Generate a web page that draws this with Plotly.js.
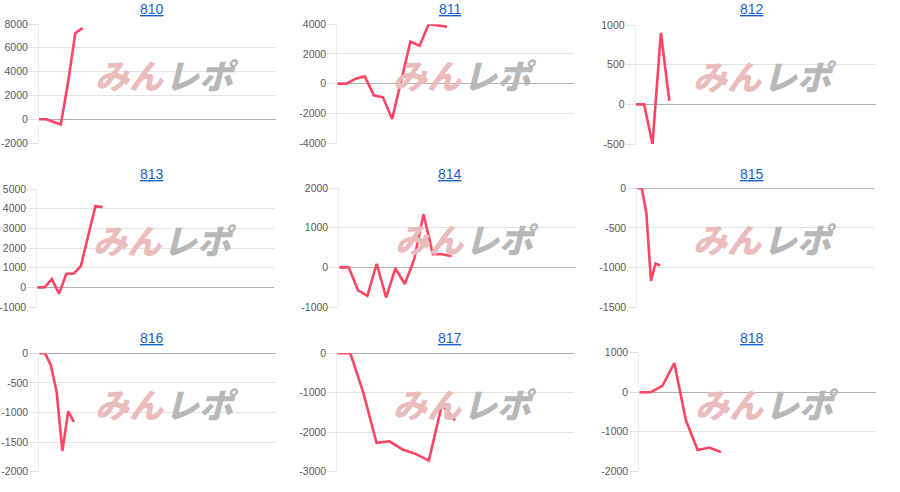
<!DOCTYPE html>
<html><head><meta charset="utf-8">
<script src="https://cdn.plot.ly/plotly-3.0.1.min.js"></script>
<style>html,body{margin:0;padding:0;background:#fff}#c{width:900px;height:492px}</style>
</head><body><div id="c"></div>
<script>
// ---- data ----
const titles = ["810","811","812","813","814","815","816","817","818"];
const s810 = [0, 0, -230, -450, 3100, 7250, 7650];
const s811 = [0, 0, 330, 490, -790, -920, -2380, 200, 2830, 2560, 4000, 3930, 3840];
const s812 = [0, 0, -500, 900, 45];
const s813 = [0, 0, 420, -320, 690, 690, 1080, 2600, 4130, 4080];
const s814 = [0, 0, -580, -720, 90, -760, -30, -420, 200, 1340, 330, 330, 280];
const s815 = [0, 0, -320, -1170, -950, -975];
const s816 = [0, 0, -200, -650, -1650, -980, -1160];
const s817 = [0, 0, -1010, -2270, -2230, -2440, -2550, -2720, -1300, -1700];
const s818 = [0, 0, 170, 740, -710, -1460, -1400, -1510];
const series = [s810, s811, s812, s813, s814, s815, s816, s817, s818];
const yRanges = [[-2000,8000],[-4000,4000],[-500,1000],[-1000,5000],[-1000,2000],[-1500,0],[-2000,0],[-3000,0],[-2000,1000]];
const yDticks = [2000, 2000, 500, 1000, 1000, 500, 500, 1000, 1000];
const xMax = [32.6, 25.9, 28.6, 32.6, 25.3, 52, 41, 18.1, 20.3];

// ---- layout geometry (pixels) ----
const W = 900, H = 492;
const boxes = [
  [39,276,24,143],[337.3,574,24.3,143],[635.7,876,25,144],
  [37.3,274,189,307],[339.3,576,188,307],[637.3,874,188.3,307],
  [39.3,276,353.3,471.7],[337.3,574,353.3,471.7],[639.3,876,352.7,471.3]
];
const titleX = [152,450,752];
const titleY = [9,174,338];

const data = [];
const layout = {
  width: W, height: H,
  margin: {l:0,r:0,t:0,b:0},
  paper_bgcolor: '#fff', plot_bgcolor: '#fff',
  showlegend: false,
  font: {family: 'Arial, "Liberation Sans", sans-serif', color: '#555'},
  annotations: []
};

series.forEach((ys, i) => {
  const n = i + 1;
  const xa = 'xaxis' + (n === 1 ? '' : n), ya = 'yaxis' + (n === 1 ? '' : n);
  const xr = 'x' + (n === 1 ? '' : n), yr = 'y' + (n === 1 ? '' : n);
  data.push({
    y: ys, xaxis: xr, yaxis: yr, type: 'scatter', mode: 'lines',
    line: {color: '#ff4563', width: 2.6},
    hoverinfo: 'skip'
  });
  const b = boxes[i];
  const tv = [], tt = [];
  for (let v = yRanges[i][0]; v <= yRanges[i][1]; v += yDticks[i]) { tv.push(v); tt.push(String(v)); }
  layout[xa] = {
    domain: [b[0]/W, b[1]/W], range: [0, xMax[i]], anchor: yr,
    showgrid: false, showticklabels: false, ticks: '',
    zeroline: false, showline: false, fixedrange: true
  };
  layout[ya] = {
    domain: [1 - b[3]/H, 1 - b[2]/H], range: yRanges[i], anchor: xr,
    tickmode: 'array', tickvals: tv, ticktext: tt,
    showgrid: true, gridcolor: '#e3e3e3', gridwidth: 1,
    zeroline: true, zerolinecolor: '#b0b0b0', zerolinewidth: 1,
    showline: true, linecolor: '#ececec', linewidth: 1,
    ticks: 'outside', ticklen: 9, tickcolor: '#e3e3e3', tickwidth: 1, ticklabelstandoff: -1,
    tickfont: {size: 10.5, color: '#5a5a5a', family: 'Arial, "Liberation Sans", sans-serif'},
    fixedrange: true
  };
  const col = i % 3, row = Math.floor(i / 3);
  layout.annotations.push({
    text: '<u>' + titles[i] + '</u>', xref: 'paper', yref: 'paper',
    x: titleX[col]/W, y: 1 - titleY[row]/H, xanchor: 'center', yanchor: 'middle',
    showarrow: false, font: {size: 14, color: '#1565c8', family: 'Arial, "Liberation Sans", sans-serif'}
  });
  // watermark
  const cx = (b[0] + b[1]) / 2, cy = (b[2] + b[3]) / 2 - 9;
  layout.annotations.push({
    text: 'みん', xref: 'paper', yref: 'paper',
    x: (cx - 28)/W, y: 1 - cy/H, xanchor: 'center', yanchor: 'middle', showarrow: false,
    font: {size: 34, color: '#ebbcbc', family: '"Noto Sans CJK JP", sans-serif', weight: 900, style: 'italic'}
  });
  layout.annotations.push({
    text: 'レポ', xref: 'paper', yref: 'paper',
    x: (cx + 44)/W, y: 1 - cy/H, xanchor: 'center', yanchor: 'middle', showarrow: false,
    font: {size: 34, color: '#b8b8b8', family: '"Noto Sans CJK JP", sans-serif', weight: 900, style: 'italic'}
  });
});

Plotly.newPlot('c', data, layout, {staticPlot: true, displayModeBar: false});
</script>
</body></html>
